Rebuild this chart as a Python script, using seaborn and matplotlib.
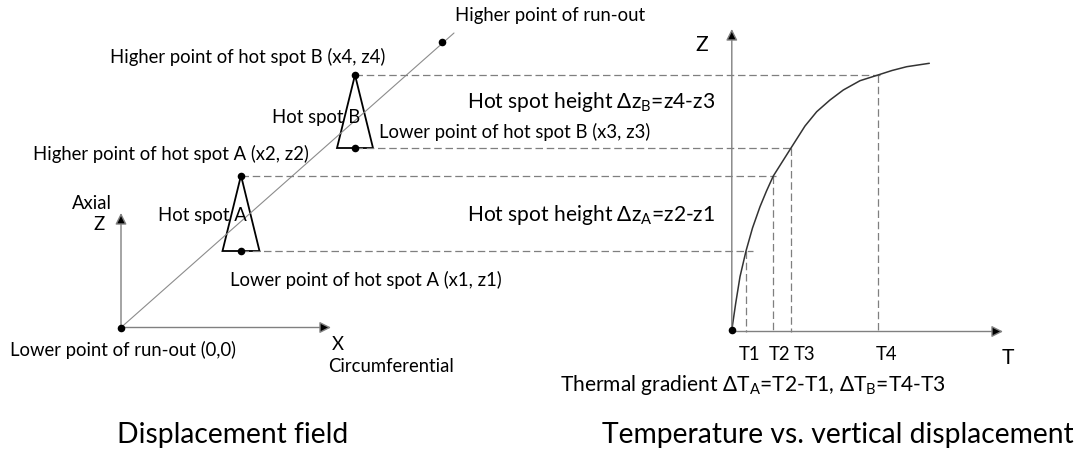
import matplotlib
matplotlib.use("Agg")
import matplotlib.pyplot as plt
import seaborn as sns
import pandas as pd
from matplotlib.patches import Polygon

sns.set_theme(style="white")
plt.rcParams['font.family'] = ['Lato', 'DejaVu Sans']
plt.rcParams['mathtext.fontset'] = 'custom'
plt.rcParams['mathtext.rm'] = 'Lato'
plt.rcParams['mathtext.it'] = 'Lato:italic'
plt.rcParams['mathtext.bf'] = 'Lato:bold'

W, H = 1078, 457

# ---- displacement field (canvas units, y grows downward) ----
xz_origin = (121, 327.5)
x_axis_tip = 331
z_axis_tip = 213
runout_end = (454, 33)
runout_high = (442, 41.7)

spot_names = ["A", "B"]
spot_x = [241, 355]
spot_low_z = [251, 148]
spot_high_z = [175.5, 75]
spot_half_base = [18.5, 18]

# ---- temperature vs. vertical displacement ----
tz_origin = (731.8, 331.5)
t_axis_tip = 1003
tz_axis_tip = 29
curve_T = [731.8, 735.7, 740, 746, 752.5, 760, 766.5, 773.3, 791, 805, 816.7,
           830, 843.3, 860, 878, 892, 906.7, 929.3]
curve_z = [330, 303.3, 276.7, 251, 228, 206.7, 191, 176, 148, 126, 111.7,
           100, 90, 80.7, 75, 70.5, 66.7, 63.3]
T_marks = [746, 773.3, 791, 878]
z_levels = [251, 176, 148, 75]
z_line_start = [241, 241, 355, 355]
z_line_end = [753, 776, 793, 880]
T_labels = ["T1", "T2", "T3", "T4"]
T_label_x = [750, 779.7, 805, 887]

fig = plt.figure(figsize=(W / 100, H / 100), dpi=100)
ax = fig.add_axes([0, 0, 1, 1])
ax.set_xlim(0, W)
ax.set_ylim(H, 0)
ax.axis("off")

grey = "#7f7f7f"
dash = (0, (6, 3))


def arrow(start, tip, color="#808080"):
    ax.annotate("", xy=tip, xytext=start,
                arrowprops=dict(arrowstyle="-|>", color=color, lw=1.0,
                                mutation_scale=17, shrinkA=0, shrinkB=0,
                                fc="black", ec=color))


# axes of the displacement field
arrow(xz_origin, (xz_origin[0], z_axis_tip))
arrow(xz_origin, (x_axis_tip, xz_origin[1]))
ax.plot([xz_origin[0], runout_end[0]], [xz_origin[1], runout_end[1]],
        color="#8c8c8c", lw=0.8)

# hot spots
for x, lo, hi, hb in zip(spot_x, spot_low_z, spot_high_z, spot_half_base):
    ax.add_patch(Polygon([(x, hi), (x - hb, lo), (x + hb, lo)], closed=True,
                         fill=False, ec="black", lw=1.3))

# dashed height links
ax.hlines(z_levels, z_line_start, z_line_end, colors=grey, lw=0.9, linestyles=dash)
ax.vlines(T_marks, z_levels, tz_origin[1], colors=grey, lw=0.9, linestyles=dash)

# temperature axes and curve
arrow(tz_origin, (tz_origin[0], tz_axis_tip))
arrow(tz_origin, (t_axis_tip, tz_origin[1]))
curve = pd.DataFrame({"T": curve_T, "z": curve_z})
sns.lineplot(data=curve, x="T", y="z", sort=False, estimator=None,
             color="#333333", lw=1.1, ax=ax)

dots = pd.DataFrame({
    "x": [xz_origin[0], runout_high[0]] + spot_x + spot_x + [tz_origin[0]],
    "z": [xz_origin[1], runout_high[1]] + spot_low_z + spot_high_z + [tz_origin[1] - 1.5],
})
sns.scatterplot(data=dots, x="x", y="z", color="black", s=30, linewidth=0,
                ax=ax, zorder=5)
ax.set_xlabel("")
ax.set_ylabel("")

small = 13.36
med = 15.13
big = 20.3


def label(x, y, s, size, ha="left"):
    return ax.text(x, y, s, fontsize=size, ha=ha, va="center", color="black")


label(455.2, 15.7, "Higher point of run-out", small)
label(109.5, 56.7, "Higher point of hot spot B (x4, z4)", small)
label(272, 117.7, "Hot spot B", small)
label(378.8, 131.7, "Lower point of hot spot B (x3, z3)", small)
label(33.4, 154.3, "Higher point of hot spot A (x2, z2)", small)
label(158.4, 215, "Hot spot A", small)
label(72.3, 203.3, "Axial", small)
label(93, 225, "Z", small)
label(230, 280, "Lower point of hot spot A (x1, z1)", small)
label(10.3, 350, "Lower point of run-out (0,0)", small)
label(332, 345, "X", small)
label(328, 366.7, "Circumferential", small)
label(466.6, 101.7, r"Hot spot height Δz$_\mathregular{B}$=z4-z3", med)
label(466.6, 215, r"Hot spot height Δz$_\mathregular{A}$=z2-z1", med)
label(695, 45, "Z", med)
for tx, tl in zip(T_label_x, T_labels):
    label(tx, 355, tl, small, ha="center")
label(1001.4, 358, "T", med)
label(560, 385, r"Thermal gradient ΔT$_\mathregular{A}$=T2-T1, ΔT$_\mathregular{B}$=T4-T3", med)
label(116.9, 435, "Displacement field", big)
label(601.6, 435, "Temperature vs. vertical displacement", big)

fig.savefig("out.png", dpi=100)
